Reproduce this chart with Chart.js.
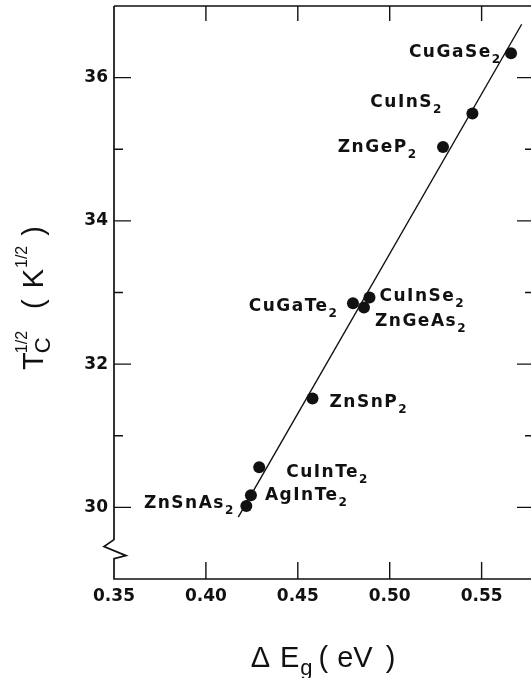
<!DOCTYPE html>
<html>
<head>
<meta charset="utf-8">
<script src="https://cdn.jsdelivr.net/npm/chart.js@4.4.1/dist/chart.umd.min.js"></script>
<style>
  html, body { margin: 0; padding: 0; background: #fff; overflow: hidden; }
  #wrap { width: 545px; height: 678px; position: relative; }
</style>
</head>
<body>
<div id="wrap"><canvas id="chartarea"></canvas></div>
<script>
// values
var compounds = ['CuGaSe', 'CuInS', 'ZnGeP', 'CuGaTe', 'CuInSe', 'ZnGeAs', 'ZnSnP', 'CuInTe', 'AgInTe', 'ZnSnAs'];
var deltaEg = [0.566, 0.545, 0.529, 0.480, 0.489, 0.486, 0.458, 0.429, 0.4245, 0.422];
var sqrtTc = [36.34, 35.50, 35.03, 32.85, 32.93, 32.79, 31.52, 30.56, 30.17, 30.02];

// straight line fit, end points
var fitX = [0.4176, 0.5718];
var fitY = [29.865, 36.745];

var xTicks = [0.35, 0.40, 0.45, 0.50, 0.55];
var yTicks = [30, 32, 34, 36];
var yMinorTicks = [31, 33, 35];

// where each label sits next to its dot: dx, dy (to baseline), alignment
var labelPlace = [
    [-11, 4, 'right'],
    [-31, -6, 'right'],
    [-27, 5, 'right'],
    [-16, 8, 'right'],
    [10, 3, 'left'],
    [11, 18, 'left'],
    [17, 8, 'left'],
    [27, 10, 'left'],
    [14, 5, 'left'],
    [-13, 2, 'right']
];

var INK = '#111';
var LABEL_FONT = 'bold 17px "DejaVu Sans"';
var SUB_FONT = 'bold 12px "DejaVu Sans"';
var TITLE_FONT = '29px "Liberation Sans"';
var TITLE_SMALL = '22px "Liberation Sans"';
var TITLE_TINY = '16px "Liberation Sans"';

var points = deltaEg.map(function (x, i) { return { x: x, y: sqrtTc[i] }; });
var fitLine = fitX.map(function (x, i) { return { x: x, y: fitY[i] }; });

function has(list, v) {
    return list.some(function (t) { return Math.abs(t - v) < 1e-6; });
}

function drawChem(ctx, name, x, y, align) {
    ctx.font = LABEL_FONT;
    ctx.letterSpacing = '1.5px';
    var w1 = ctx.measureText(name).width;
    ctx.font = SUB_FONT;
    ctx.letterSpacing = '0px';
    var w2 = ctx.measureText('2').width;
    var sx = align === 'right' ? x - w1 - w2 : x;
    ctx.font = LABEL_FONT;
    ctx.letterSpacing = '1.5px';
    ctx.fillText(name, sx, y);
    ctx.font = SUB_FONT;
    ctx.letterSpacing = '0px';
    ctx.fillText('2', sx + w1, y + 6);
}

// draw a run of [text, font, dy, gapAfter, advance?] pieces starting at x0
function drawRun(ctx, pieces, x0, y0, measureOnly) {
    var x = x0;
    pieces.forEach(function (p) {
        ctx.font = p[1];
        var w = ctx.measureText(p[0]).width;
        if (!measureOnly) ctx.fillText(p[0], x, y0 + p[2]);
        x += (p[4] !== undefined ? p[4] : w) + p[3];
    });
    return x - x0;
}

var framePlugin = {
    id: 'frame',
    afterDraw: function (chart) {
        var ctx = chart.ctx;
        var ca = chart.chartArea;
        var xs = chart.scales.x, ys = chart.scales.y;
        ctx.save();
        ctx.strokeStyle = INK;
        ctx.fillStyle = INK;
        ctx.lineWidth = 1.7;

        // box with the broken left axis
        var yb = ys.getPixelForValue(29.55);
        ctx.beginPath();
        ctx.moveTo(ca.left, ca.top);
        ctx.lineTo(ca.right, ca.top);
        ctx.lineTo(ca.right, ca.bottom);
        ctx.lineTo(ca.left, ca.bottom);
        ctx.lineTo(ca.left, yb + 19);
        ctx.lineTo(ca.left + 12, yb + 16);
        ctx.lineTo(ca.left - 10, yb + 7);
        ctx.lineTo(ca.left, yb);
        ctx.lineTo(ca.left, ca.top);
        ctx.stroke();

        // inward ticks
        ctx.lineWidth = 1.4;
        ctx.beginPath();
        xTicks.forEach(function (v) {
            if (v <= xs.min + 1e-6) return;
            var px = xs.getPixelForValue(v);
            ctx.moveTo(px, ca.bottom); ctx.lineTo(px, ca.bottom - 17);
            ctx.moveTo(px, ca.top); ctx.lineTo(px, ca.top + 15);
        });
        yTicks.concat(yMinorTicks).forEach(function (v) {
            var py = ys.getPixelForValue(v);
            var len = has(yTicks, v) ? 17 : 9;
            ctx.moveTo(ca.left, py); ctx.lineTo(ca.left + len, py);
            ctx.moveTo(ca.right, py); ctx.lineTo(ca.right - len, py);
        });
        ctx.stroke();

        // compound labels
        ctx.textAlign = 'left';
        ctx.textBaseline = 'alphabetic';
        var meta = chart.getDatasetMeta(1);
        meta.data.forEach(function (el, i) {
            var lp = labelPlace[i];
            drawChem(ctx, compounds[i], el.x + lp[0], el.y + lp[1], lp[2]);
        });

        // x axis title:  Δ E_g ( eV )
        var xPieces = [
            ['\u0394', TITLE_FONT, 0, 10],
            ['E', TITLE_FONT, 0, 1],
            ['g', TITLE_SMALL, 8, 6],
            ['(', TITLE_FONT, 0, 9],
            ['eV', TITLE_FONT, 0, 13],
            [')', TITLE_FONT, 0, 0]
        ];
        var cx = (ca.left + ca.right) / 2 - 1;
        var wx = drawRun(ctx, xPieces, 0, 0, true);
        drawRun(ctx, xPieces, cx - wx / 2, 667, false);

        // y axis title:  T_C^(1/2) ( K^(1/2) )
        ctx.font = TITLE_TINY;
        var fracW = ctx.measureText('1/2').width;
        ctx.font = TITLE_SMALL;
        var cW = ctx.measureText('C').width;
        var yPieces = [
            ['T', TITLE_FONT, 0, -1],
            ['1/2', TITLE_TINY, -16, 0, 0],
            ['C', TITLE_SMALL, 7, 22, Math.max(cW, fracW)],
            ['(', TITLE_FONT, 0, 11],
            ['K', TITLE_FONT, 0, 1],
            ['1/2', TITLE_TINY, -16, 10],
            [')', TITLE_FONT, 0, 0]
        ];
        var wy = drawRun(ctx, yPieces, 0, 0, true);
        ctx.translate(43, 298);
        ctx.rotate(-Math.PI / 2);
        drawRun(ctx, yPieces, -wy / 2, 0, false);
        ctx.restore();
    }
};

var ctx = document.getElementById('chartarea');

new Chart(ctx, {
    type: 'scatter',
    data: {
        datasets: [
            {
                data: fitLine,
                showLine: true,
                borderColor: INK,
                borderWidth: 1.4,
                pointRadius: 0,
                order: 2
            },
            {
                data: points,
                pointRadius: 6,
                backgroundColor: INK,
                borderWidth: 0,
                order: 1
            }
        ]
    },
    options: {
        animation: false,
        responsive: true,
        maintainAspectRatio: false,
        layout: { padding: { top: 6, right: 11, left: 0, bottom: 0 } },
        plugins: { legend: { display: false }, tooltip: { enabled: false } },
        scales: {
            x: {
                type: 'linear',
                min: 0.35,
                max: 0.5785,
                grid: { display: false, drawTicks: false },
                border: { display: false },
                ticks: {
                    autoSkip: false,
                    maxRotation: 0,
                    padding: 7,
                    color: INK,
                    font: { family: 'DejaVu Sans', size: 17, weight: 'bold' },
                    callback: function (v) { return v.toFixed(2); }
                },
                afterBuildTicks: function (s) {
                    s.ticks = xTicks.map(function (v) { return { value: v }; });
                },
                afterFit: function (s) {
                    s.height = 99;
                    s.paddingLeft = 0;
                    s.paddingRight = 0;
                }
            },
            y: {
                type: 'linear',
                min: 29,
                max: 37,
                grid: { display: false, drawTicks: false },
                border: { display: false },
                ticks: {
                    autoSkip: false,
                    padding: 6,
                    color: INK,
                    font: { family: 'DejaVu Sans', size: 17, weight: 'bold' },
                    callback: function (v) { return String(v); }
                },
                afterBuildTicks: function (s) {
                    s.ticks = yTicks.map(function (v) { return { value: v }; });
                },
                afterFit: function (s) {
                    s.width = 114;
                    s.paddingTop = 0;
                    s.paddingBottom = 0;
                }
            }
        }
    },
    plugins: [framePlugin]
});
</script>
</body>
</html>
